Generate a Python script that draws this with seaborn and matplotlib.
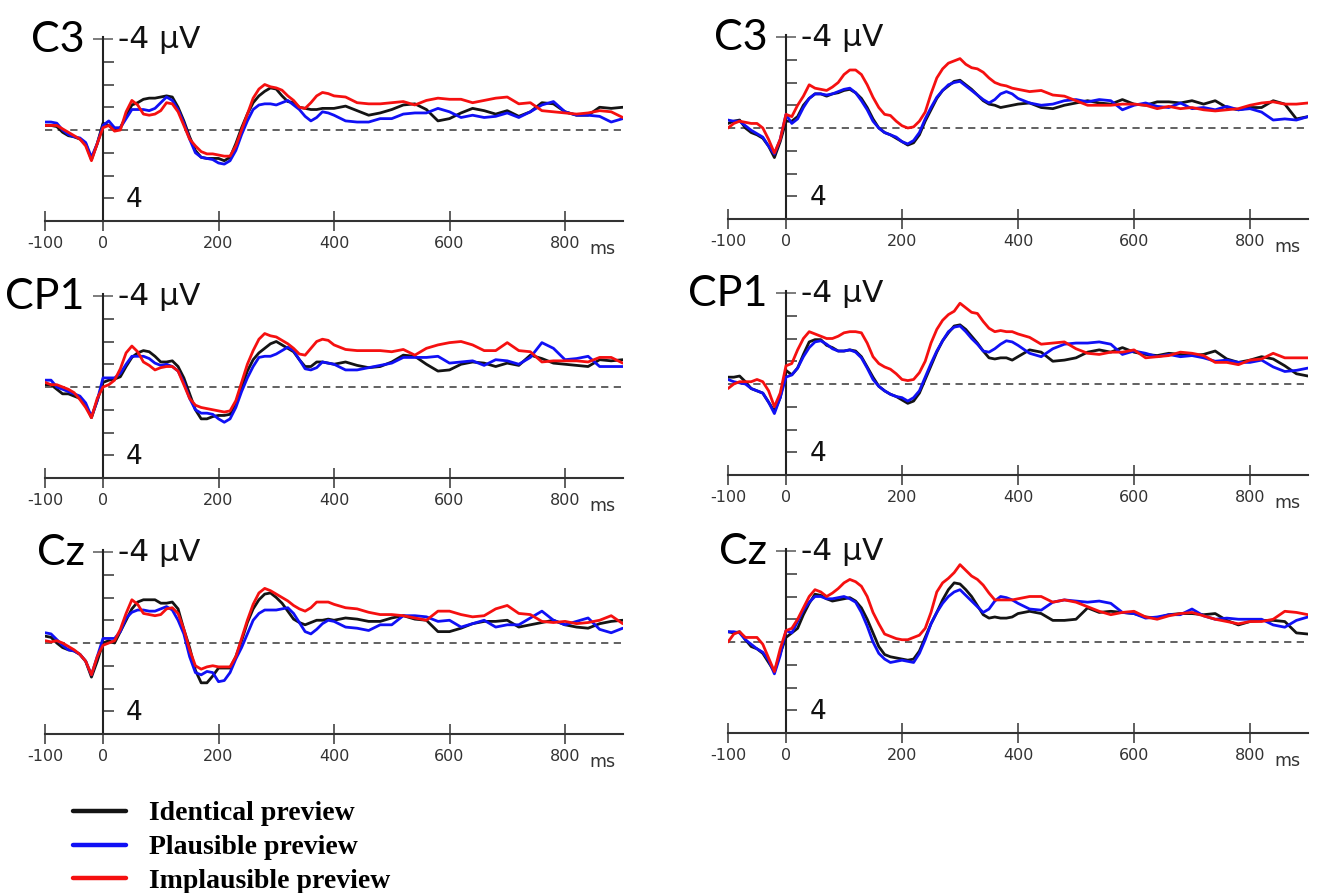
import numpy as np
import pandas as pd
import matplotlib
matplotlib.use("Agg")
import matplotlib.pyplot as plt
import seaborn as sns
from matplotlib.lines import Line2D
from matplotlib.ticker import FixedLocator

# ---------------- data ----------------
times = list(range(-100, 400, 10)) + list(range(400, 901, 20))

conditions = ["Identical preview", "Plausible preview", "Implausible preview"]
channels = ["C3", "CP1", "Cz"]
xtick_values = [-100, 0, 200, 400, 600, 800]
xtick_labels = ["-100", "0", "200", "400", "600", "800"]
ytick_values = [-3, -2, -1, 1, 2, 3]

# Left column
left_c3_identical = [-0.2, -0.2, -0.15, 0.1, 0.25, 0.3, 0.4, 0.6, 1.3, 0.6,
    -0.3, -0.2, 0.0, -0.1, -0.6, -1.1, -1.2, -1.35, -1.4, -1.4,
    -1.45, -1.5, -1.45, -1.0, -0.4, 0.3, 0.9, 1.2, 1.25, 1.25,
    1.25, 1.35, 1.2, 0.6, -0.1, -0.7, -1.2, -1.5, -1.7, -1.85,
    -1.8, -1.5, -1.25, -1.2, -1.0, -0.95, -0.9, -0.9, -0.95, -0.95,
    -0.95,
    -1.05, -0.85, -0.65, -0.75, -0.9, -1.1, -1.15, -0.9, -0.4, -0.5, -0.75, -0.95, -0.85,
    -0.7, -0.85, -0.6, -0.8, -1.2, -1.15, -0.8, -0.65, -0.65, -1.0, -0.95, -1.0]
left_c3_plausible = [-0.35, -0.35, -0.3, 0.0, 0.2, 0.3, 0.35, 0.55, 1.2, 0.6,
    -0.2, -0.4, -0.1, -0.1, -0.5, -0.9, -0.9, -0.9, -0.85, -0.95,
    -1.2, -1.45, -1.3, -0.9, -0.3, 0.4, 1.0, 1.2, 1.25, 1.3,
    1.45, 1.5, 1.35, 0.9, 0.2, -0.4, -0.9, -1.1, -1.15, -1.15,
    -1.1, -1.2, -1.3, -1.1, -0.9, -0.6, -0.4, -0.55, -0.8, -0.75,
    -0.65,
    -0.4, -0.35, -0.35, -0.5, -0.5, -0.7, -0.75, -0.75, -0.95, -0.8, -0.55, -0.65, -0.55,
    -0.6, -0.75, -0.55, -0.8, -1.1, -1.25, -0.8, -0.65, -0.65, -0.6, -0.35, -0.5]
left_c3_implausible = [-0.2, -0.2, -0.2, -0.05, 0.1, 0.25, 0.4, 0.7, 1.35, 0.6,
    -0.1, -0.2, 0.05, 0.0, -0.8, -1.3, -1.1, -0.7, -0.65, -0.7,
    -0.85, -1.2, -1.15, -0.8, -0.2, 0.4, 0.7, 0.95, 1.05, 1.05,
    1.1, 1.15, 1.15, 0.7, 0.0, -0.7, -1.4, -1.8, -2.0, -1.9,
    -1.85, -1.75, -1.5, -1.3, -1.0, -0.95, -1.2, -1.5, -1.65, -1.6,
    -1.5,
    -1.45, -1.2, -1.15, -1.15, -1.2, -1.25, -1.1, -1.3, -1.4, -1.35, -1.35, -1.2, -1.3,
    -1.4, -1.45, -1.15, -1.2, -0.85, -0.8, -0.75, -0.7, -0.75, -0.85, -0.8, -0.55]

left_cp1_identical = [-0.1, -0.1, 0.1, 0.3, 0.3, 0.4, 0.5, 0.8, 1.35, 0.6,
    -0.2, -0.3, -0.35, -0.45, -0.9, -1.3, -1.5, -1.6, -1.55, -1.35,
    -1.1, -1.1, -1.15, -0.9, -0.4, 0.3, 1.0, 1.4, 1.4, 1.3,
    1.25, 1.25, 1.2, 0.7, 0.0, -0.7, -1.2, -1.5, -1.7, -1.9,
    -2.0, -1.85, -1.7, -1.55, -1.2, -0.9, -0.9, -1.1, -1.1, -1.05,
    -1.0,
    -1.1, -0.95, -0.85, -0.9, -1.1, -1.4, -1.35, -1.0, -0.7, -0.75, -1.0, -1.1, -1.05,
    -0.9, -1.05, -0.95, -1.4, -1.25, -1.05, -1.0, -0.95, -0.9, -1.2, -1.15, -1.2]
left_cp1_plausible = [-0.3, -0.3, 0.0, 0.1, 0.2, 0.3, 0.4, 0.7, 1.3, 0.6,
    -0.4, -0.4, -0.4, -0.6, -1.0, -1.35, -1.35, -1.35, -1.25, -1.05,
    -0.95, -1.0, -0.9, -0.7, -0.2, 0.5, 1.0, 1.15, 1.15, 1.2,
    1.4, 1.55, 1.4, 0.9, 0.2, -0.4, -0.9, -1.3, -1.35, -1.35,
    -1.45, -1.6, -1.75, -1.6, -1.2, -0.8, -0.75, -0.85, -1.1, -1.05,
    -1.0,
    -0.75, -0.75, -0.85, -0.95, -1.05, -1.3, -1.3, -1.3, -1.35, -1.05, -1.1, -1.15, -0.95,
    -1.2, -1.15, -1.0, -1.3, -1.95, -1.7, -1.2, -1.25, -1.35, -0.9, -0.9, -0.9]
left_cp1_implausible = [-0.2, -0.1, -0.1, 0.0, 0.1, 0.25, 0.55, 0.9, 1.35, 0.5,
    0.0, -0.1, -0.3, -0.8, -1.5, -1.8, -1.55, -1.1, -0.95, -0.75,
    -0.85, -0.9, -0.9, -0.7, -0.1, 0.5, 0.8, 0.9, 0.95, 1.0,
    1.05, 1.1, 1.05, 0.6, -0.2, -1.0, -1.6, -2.1, -2.35, -2.25,
    -2.2, -2.05, -1.9, -1.7, -1.45, -1.4, -1.7, -2.0, -2.1, -2.05,
    -1.85,
    -1.65, -1.6, -1.6, -1.6, -1.55, -1.65, -1.4, -1.7, -1.85, -1.95, -2.0, -1.85, -1.6,
    -1.6, -1.95, -1.6, -1.55, -1.1, -1.15, -1.15, -1.15, -1.1, -1.3, -1.3, -1.05]

left_cz_identical = [-0.3, -0.25, 0.0, 0.2, 0.3, 0.35, 0.5, 0.8, 1.5, 0.8,
    0.0, -0.1, 0.0, -0.5, -1.0, -1.5, -1.8, -1.9, -1.9, -1.9,
    -1.75, -1.75, -1.8, -1.5, -0.6, 0.2, 1.2, 1.75, 1.75, 1.45,
    1.1, 1.1, 1.1, 0.6, -0.1, -0.9, -1.5, -1.9, -2.15, -2.2,
    -2.0, -1.75, -1.4, -1.05, -0.9, -0.8, -0.9, -1.0, -1.0, -1.05,
    -1.0,
    -1.1, -1.05, -0.95, -0.95, -1.1, -1.2, -1.05, -1.0, -0.5, -0.5, -0.65, -0.85, -0.95,
    -0.95, -1.0, -0.7, -0.8, -0.9, -1.0, -0.8, -0.7, -0.65, -0.85, -0.95, -1.0]
left_cz_plausible = [-0.45, -0.4, -0.15, 0.1, 0.3, 0.35, 0.5, 0.8, 1.4, 0.6,
    -0.2, -0.2, -0.2, -0.5, -1.1, -1.35, -1.45, -1.45, -1.4, -1.4,
    -1.5, -1.6, -1.45, -1.0, -0.4, 0.6, 1.3, 1.4, 1.25, 1.3,
    1.7, 1.65, 1.3, 0.7, 0.2, -0.4, -1.0, -1.3, -1.45, -1.45,
    -1.45, -1.5, -1.55, -1.3, -0.9, -0.5, -0.4, -0.6, -0.85, -1.0,
    -0.95,
    -0.7, -0.65, -0.55, -0.8, -0.8, -1.2, -1.2, -1.15, -0.95, -1.0, -0.7, -0.85, -1.0,
    -0.7, -0.8, -0.8, -1.1, -1.4, -1.0, -0.8, -0.95, -1.1, -0.6, -0.45, -0.65]
left_cz_implausible = [-0.1, -0.05, -0.1, 0.0, 0.15, 0.3, 0.5, 0.8, 1.4, 0.6,
    0.1, 0.0, -0.1, -0.6, -1.3, -1.9, -1.7, -1.3, -1.25, -1.2,
    -1.25, -1.5, -1.55, -1.3, -0.6, 0.3, 1.0, 1.15, 1.05, 1.0,
    1.05, 1.05, 1.05, 0.6, -0.2, -1.0, -1.7, -2.2, -2.4, -2.3,
    -2.15, -2.0, -1.85, -1.65, -1.5, -1.4, -1.55, -1.8, -1.8, -1.8,
    -1.7,
    -1.55, -1.5, -1.35, -1.25, -1.25, -1.2, -1.1, -1.0, -1.4, -1.4, -1.25, -1.15, -1.2,
    -1.5, -1.65, -1.3, -1.25, -0.95, -0.9, -0.95, -0.85, -0.9, -1.0, -1.2, -0.85]

# Right column
right_c3_identical = [-0.2, -0.3, -0.35, 0.0, 0.2, 0.3, 0.45, 0.8, 1.3, 0.6,
    -0.3, -0.3, -0.5, -1.0, -1.3, -1.5, -1.5, -1.4, -1.5, -1.55,
    -1.65, -1.7, -1.55, -1.3, -0.9, -0.4, 0.0, 0.2, 0.3, 0.45,
    0.6, 0.75, 0.65, 0.3, -0.3, -0.8, -1.3, -1.65, -1.85, -2.05,
    -2.1, -1.9, -1.7, -1.45, -1.2, -1.05, -1.0, -0.9, -0.95, -1.0,
    -1.05,
    -1.1, -0.9, -0.85, -1.0, -1.1, -1.2, -1.1, -1.05, -1.25, -1.05, -1.0, -1.15, -1.15,
    -1.1, -1.2, -1.05, -1.2, -0.9, -0.8, -0.9, -0.9, -1.2, -1.05, -0.4, -0.5]
right_c3_plausible = [-0.35, -0.3, -0.3, -0.1, 0.1, 0.25, 0.4, 0.8, 1.15, 0.5,
    -0.6, -0.2, -0.4, -0.9, -1.3, -1.5, -1.5, -1.45, -1.5, -1.6,
    -1.7, -1.75, -1.55, -1.2, -0.8, -0.3, 0.0, 0.2, 0.3, 0.4,
    0.6, 0.7, 0.55, 0.2, -0.4, -0.9, -1.35, -1.65, -1.9, -2.0,
    -2.05, -1.85, -1.65, -1.45, -1.25, -1.1, -1.25, -1.5, -1.6, -1.5,
    -1.3,
    -1.1, -1.0, -1.05, -1.2, -1.25, -1.15, -1.25, -1.2, -0.8, -1.0, -1.1, -0.95, -0.9,
    -1.1, -0.85, -0.9, -0.8, -0.95, -0.8, -0.85, -0.7, -0.35, -0.4, -0.35, -0.5]
right_c3_implausible = [0.0, -0.2, -0.3, -0.25, -0.2, -0.2, 0.0, 0.5, 1.1, 0.5,
    -0.6, -0.5, -1.0, -1.4, -1.9, -1.75, -1.7, -1.65, -1.8, -2.0,
    -2.35, -2.55, -2.55, -2.35, -1.9, -1.35, -0.9, -0.6, -0.55, -0.3,
    -0.1, 0.0, -0.05, -0.3, -0.7, -1.5, -2.2, -2.6, -2.85, -2.95,
    -3.05, -2.8, -2.65, -2.6, -2.45, -2.2, -2.0, -1.9, -1.85, -1.75,
    -1.7,
    -1.6, -1.65, -1.45, -1.4, -1.2, -1.0, -1.0, -1.0, -1.05, -1.05, -1.0, -0.85, -0.95,
    -0.85, -0.9, -0.8, -0.75, -0.8, -0.85, -1.0, -1.1, -1.15, -1.05, -1.05, -1.1]

right_cp1_identical = [-0.3, -0.3, -0.35, -0.1, 0.2, 0.3, 0.4, 0.8, 1.2, 0.6,
    -0.6, -0.4, -0.7, -1.3, -1.85, -1.95, -1.95, -1.7, -1.6, -1.45,
    -1.45, -1.5, -1.45, -1.2, -0.75, -0.3, 0.1, 0.3, 0.45, 0.55,
    0.7, 0.85, 0.75, 0.4, -0.2, -0.8, -1.4, -1.9, -2.25, -2.55,
    -2.6, -2.4, -2.1, -1.8, -1.45, -1.15, -1.1, -1.15, -1.15, -1.05,
    -1.2,
    -1.5, -1.4, -1.0, -1.05, -1.15, -1.4, -1.5, -1.4, -1.6, -1.4, -1.3, -1.25, -1.35,
    -1.3, -1.25, -1.3, -1.45, -1.1, -0.95, -1.05, -1.2, -1.1, -0.8, -0.45, -0.35]
right_cp1_plausible = [-0.2, -0.1, -0.05, 0.0, 0.2, 0.3, 0.4, 0.8, 1.3, 0.6,
    -0.3, -0.4, -0.7, -1.2, -1.6, -1.85, -1.9, -1.75, -1.55, -1.45,
    -1.45, -1.5, -1.4, -1.15, -0.7, -0.2, 0.1, 0.3, 0.45, 0.55,
    0.6, 0.75, 0.6, 0.3, -0.3, -0.9, -1.45, -1.9, -2.3, -2.5,
    -2.55, -2.3, -2.0, -1.75, -1.45, -1.4, -1.55, -1.75, -1.9, -1.85,
    -1.7,
    -1.35, -1.2, -1.55, -1.75, -1.8, -1.8, -1.85, -1.75, -1.3, -1.45, -1.35, -1.2, -1.3,
    -1.2, -1.25, -1.15, -1.0, -1.05, -0.95, -0.95, -1.05, -0.75, -0.55, -0.6, -0.7]
right_cp1_implausible = [0.2, 0.0, -0.1, -0.1, -0.1, -0.2, -0.1, 0.3, 1.0, 0.4,
    -0.8, -0.9, -1.5, -2.0, -2.3, -2.2, -2.1, -2.0, -2.0, -2.1,
    -2.25, -2.3, -2.3, -2.25, -1.8, -1.2, -0.9, -0.75, -0.65, -0.45,
    -0.2, -0.15, -0.2, -0.5, -1.0, -1.8, -2.4, -2.8, -3.05, -3.2,
    -3.55, -3.35, -3.15, -3.1, -2.75, -2.45, -2.3, -2.35, -2.3, -2.3,
    -2.2,
    -2.05, -1.75, -1.8, -1.85, -1.55, -1.35, -1.3, -1.4, -1.4, -1.5, -1.15, -1.2, -1.25,
    -1.4, -1.35, -1.25, -0.95, -0.95, -0.85, -1.05, -1.1, -1.35, -1.15, -1.15, -1.15]

right_cz_identical = [-0.45, -0.4, -0.45, -0.1, 0.2, 0.3, 0.5, 0.9, 1.3, 0.5,
    -0.2, -0.4, -0.6, -1.2, -1.7, -2.1, -2.05, -1.9, -1.8, -1.85,
    -1.9, -1.95, -1.8, -1.5, -1.0, -0.4, 0.2, 0.55, 0.65, 0.7,
    0.75, 0.8, 0.75, 0.4, -0.2, -0.8, -1.3, -1.85, -2.3, -2.6,
    -2.55, -2.3, -2.0, -1.6, -1.2, -1.05, -1.1, -1.05, -1.05, -1.1,
    -1.25,
    -1.35, -1.25, -0.95, -0.95, -1.0, -1.5, -1.3, -1.35, -1.3, -1.25, -1.1, -1.05, -1.2,
    -1.25, -1.25, -1.2, -1.25, -0.95, -0.75, -0.9, -0.95, -0.95, -0.9, -0.4, -0.35]
right_cz_plausible = [-0.45, -0.45, -0.4, -0.1, 0.1, 0.3, 0.45, 0.8, 1.4, 0.6,
    -0.5, -0.4, -0.9, -1.4, -1.75, -2.0, -2.0, -1.9, -1.9, -1.95,
    -2.0, -1.9, -1.75, -1.3, -0.7, 0.0, 0.5, 0.75, 0.9, 0.85,
    0.8, 0.85, 0.9, 0.5, -0.1, -0.8, -1.3, -1.7, -2.0, -2.2,
    -2.3, -2.05, -1.8, -1.55, -1.3, -1.45, -1.8, -2.0, -1.95, -1.85,
    -1.7,
    -1.45, -1.4, -1.75, -1.85, -1.8, -1.75, -1.8, -1.7, -1.3, -1.25, -1.05, -1.1, -1.2,
    -1.2, -1.45, -1.15, -1.0, -1.05, -1.0, -1.0, -1.0, -0.75, -0.65, -0.95, -1.1]
right_cz_implausible = [0.0, -0.35, -0.45, -0.2, -0.2, -0.2, 0.1, 0.7, 1.3, 0.3,
    -0.5, -0.6, -1.0, -1.5, -2.0, -2.3, -2.2, -2.0, -2.15, -2.35,
    -2.6, -2.75, -2.65, -2.45, -2.0, -1.3, -0.8, -0.35, -0.25, -0.15,
    -0.1, -0.1, -0.2, -0.3, -0.6, -1.3, -2.2, -2.6, -2.8, -3.05,
    -3.4, -3.15, -2.9, -2.75, -2.5, -2.15, -1.85, -1.85, -1.85, -1.85,
    -1.9,
    -2.0, -2.0, -1.75, -1.85, -1.75, -1.55, -1.35, -1.2, -1.3, -1.35, -1.1, -1.0, -1.15,
    -1.25, -1.3, -1.15, -1.0, -0.9, -0.8, -0.9, -0.9, -1.0, -1.35, -1.3, -1.2]

panels = {
    (0, 0): [left_c3_identical, left_c3_plausible, left_c3_implausible],
    (0, 1): [left_cp1_identical, left_cp1_plausible, left_cp1_implausible],
    (0, 2): [left_cz_identical, left_cz_plausible, left_cz_implausible],
    (1, 0): [right_c3_identical, right_c3_plausible, right_c3_implausible],
    (1, 1): [right_cp1_identical, right_cp1_plausible, right_cp1_implausible],
    (1, 2): [right_cz_identical, right_cz_plausible, right_cz_implausible],
}

# ---------------- style ----------------
colors = ["#141414", "#1010f5", "#f51010"]
sns.set_style("ticks")
plt.rcParams["font.family"] = ["DejaVu Sans"]
plt.rcParams["text.color"] = "black"

W, H = 1317, 893
fig = plt.figure(figsize=(W / 100, H / 100), dpi=100)

col_x = {0: (45.25, 622.75), 1: (728.0, 1308.0)}
zero_px = {(0, 0): 130, (0, 1): 387, (0, 2): 643,
           (1, 0): 128, (1, 1): 384, (1, 2): 642}
px_per_uv = 22.75
y_top, y_bot = -4.1, 4.0

for (c, r), series in panels.items():
    x0, x1 = col_x[c]
    z = zero_px[(c, r)]
    top_px = z + y_top * px_per_uv
    bot_px = z + y_bot * px_per_uv
    ax = fig.add_axes([x0 / W, 1 - bot_px / H, (x1 - x0) / W, (bot_px - top_px) / H])
    ax.set_facecolor("none")

    df = pd.concat([pd.DataFrame({"time": times, "amplitude": vals, "condition": cond})
                    for vals, cond in zip(series, conditions)], ignore_index=True)

    ax.axhline(0, color="#555555", lw=1.3, ls=(0, (4, 3)), zorder=1)
    sns.lineplot(data=df, x="time", y="amplitude", hue="condition",
                 hue_order=conditions, palette=colors, estimator=None,
                 legend=False, ax=ax, linewidth=2.0, zorder=3)
    ax.set_xlabel("")
    ax.set_ylabel("")
    ax.set_xlim(-100, 900)
    ax.set_ylim(y_bot, y_top)

    for s in ["top", "right"]:
        ax.spines[s].set_visible(False)
    ax.spines["left"].set_position(("data", 0))
    ax.spines["left"].set_color("#222222")
    ax.spines["left"].set_linewidth(1.5)
    ax.spines["bottom"].set_color("#333333")
    ax.spines["bottom"].set_linewidth(1.5)

    ax.set_xticks(xtick_values, labels=xtick_labels)
    ax.tick_params(axis="x", which="major", bottom=True, direction="inout", length=14,
                   width=1.2, color="#444444", labelsize=11.5, labelcolor="#333333", pad=4)
    ax.yaxis.set_major_locator(FixedLocator(ytick_values))
    ax.yaxis.set_minor_locator(FixedLocator([-4]))
    ax.tick_params(axis="y", which="major", left=True, direction="in", length=8,
                   width=1.2, color="#444444", labelleft=False)
    ax.tick_params(axis="y", which="minor", left=True, direction="inout", length=14,
                   width=1.2, color="#666666", labelleft=False)

    ax.text(-32, -3.45, channels[r], ha="right", va="baseline", fontsize=31,
            family=["Lato", "DejaVu Sans"], color="black")
    ax.text(26, -3.6, "-4 µV", ha="left", va="baseline", fontsize=22.5, color="#111111")
    ax.text(40, 3.4, "4", ha="left", va="baseline", fontsize=19, color="#111111")
    ax.text(865, 4.85, "ms", ha="center", va="top", fontsize=12.5, color="#333333")

handles = [Line2D([], [], color=col, lw=3.2) for col in colors]
leg = fig.legend(handles, conditions, loc="upper left",
                 bbox_to_anchor=(73 / W, 1 - 801 / H),
                 frameon=False, prop={"family": "Liberation Serif", "weight": "bold", "size": 20},
                 handlelength=1.9, handletextpad=0.85, labelspacing=0.3,
                 borderpad=0, borderaxespad=0)
for t in leg.get_texts():
    t.set_color("black")

fig.savefig("out.png", dpi=100)
